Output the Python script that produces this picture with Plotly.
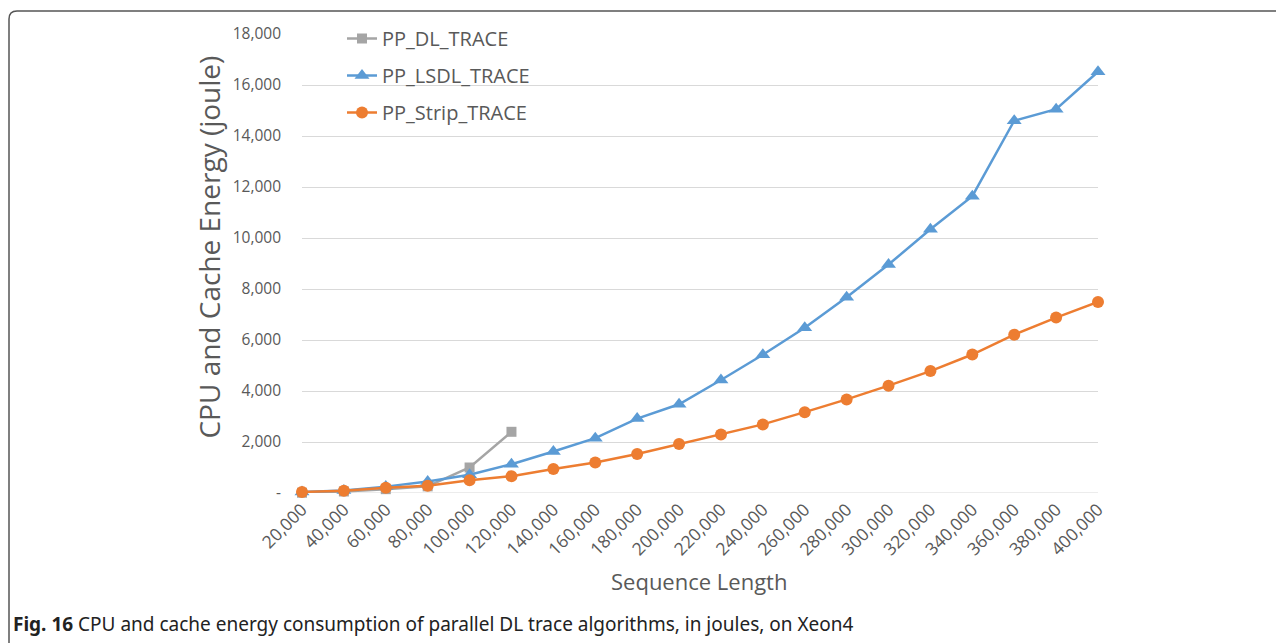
import plotly.graph_objects as go

seq_len = [20000, 40000, 60000, 80000, 100000, 120000, 140000, 160000, 180000, 200000,
           220000, 240000, 260000, 280000, 300000, 320000, 340000, 360000, 380000, 400000]
dl_len = seq_len[:6]
pp_dl_trace = [10, 60, 150, 260, 1000, 2400]
pp_lsdl_trace = [40, 100, 250, 450, 715, 1130, 1630, 2150, 2920, 3480,
                 4430, 5420, 6480, 7680, 8960, 10340, 11640, 14600, 15050, 16520]
pp_strip_trace = [40, 90, 210, 285, 500, 660, 940, 1200, 1530, 1920,
                  2290, 2690, 3170, 3670, 4210, 4780, 5430, 6210, 6880, 7490]

y_ticks = [0, 2000, 4000, 6000, 8000, 10000, 12000, 14000, 16000, 18000]
y_ticktext = ["-", "2,000", "4,000", "6,000", "8,000", "10,000", "12,000", "14,000", "16,000", "18,000"]
x_ticktext = [f"{v:,}" for v in seq_len]

GRAY = "#A5A5A5"
BLUE = "#5B9BD5"
ORANGE = "#ED7D31"
TXT = "#595959"
FONT = "Open Sans"

OFF = 8  # page body margin
W, H = 1284 - OFF, 643 - OFF
# plot area in page pixel coordinates
L, R, T, B = 302, 1098, 33, 493

fig = go.Figure()
fig.add_trace(go.Scatter(x=dl_len, y=pp_dl_trace, name="PP_DL_TRACE", mode="lines+markers",
                         line=dict(color=GRAY, width=2.5), legendgroup="a", cliponaxis=False,
                         marker=dict(symbol="square", size=10, color=GRAY)))
fig.add_trace(go.Scatter(x=seq_len, y=pp_lsdl_trace, name="PP_LSDL_TRACE", mode="lines+markers",
                         line=dict(color=BLUE, width=2.5), legendgroup="b", cliponaxis=False,
                         marker=dict(symbol="triangle-up", size=13, color=BLUE)))
fig.add_trace(go.Scatter(x=seq_len, y=pp_strip_trace, name="PP_Strip_TRACE", mode="lines+markers",
                         line=dict(color=ORANGE, width=2.5), legendgroup="c", cliponaxis=False,
                         marker=dict(symbol="circle", size=12, color=ORANGE)))

def px(xp):
    return (xp - L) / (R - L)

def py(yp):
    return (B - yp) / (B - T)

# Figure frame (rounded top-left corner)
x0, y0 = px(9), py(10)
x1, y1 = px(1300), py(660)
rx, ry = 8 / (R - L), 8 / (B - T)
fig.add_shape(type="path", xref="paper", yref="paper",
              path=f"M {x0} {y1} L {x0} {y0 - ry} Q {x0} {y0} {x0 + rx} {y0} L {x1} {y0}",
              line=dict(color="#555555", width=1.5), layer="above")

fig.add_annotation(xref="paper", yref="paper", x=px(11), y=py(624), xanchor="left", yanchor="middle",
                   text="<b>Fig. 16</b> CPU and cache energy consumption of parallel DL trace algorithms, in joules, on Xeon4",
                   showarrow=False, font=dict(family="Noto Sans", size=19, color="#222222"))

# axis titles
fig.add_annotation(xref="paper", yref="paper", x=px(699), y=py(581), xanchor="center", yanchor="middle",
                   text="Sequence Length", showarrow=False, font=dict(family=FONT, size=22, color=TXT))
fig.add_annotation(xref="paper", yref="paper", x=px(209), y=py(247), xanchor="center", yanchor="middle",
                   text="CPU and Cache Energy (joule)", textangle=-90, showarrow=False,
                   font=dict(family=FONT, size=28, color=TXT))

fig.update_layout(
    width=W, height=H,
    margin=dict(l=L - OFF, r=W - (R - OFF), t=T - OFF, b=H - (B - OFF)),
    paper_bgcolor="white", plot_bgcolor="white",
    font=dict(family=FONT, color=TXT),
    showlegend=True,
    legend=dict(x=px(342), y=py(19), xanchor="left", yanchor="top",
                bgcolor="rgba(0,0,0,0)", font=dict(size=20, color=TXT),
                tracegroupgap=8, itemwidth=30),
    xaxis=dict(range=[20000, 400000], tickvals=seq_len, ticktext=x_ticktext, tickangle=-45,
               showgrid=False, zeroline=False, showline=False, ticks="",
               tickfont=dict(size=17.5, color=TXT), ticklabelstandoff=2),
    yaxis=dict(range=[0, 18000], tickvals=y_ticks, ticktext=y_ticktext,
               showgrid=True, gridcolor="#D9D9D9", gridwidth=1.2, zeroline=False, showline=False,
               ticks="", tickfont=dict(size=15.5, color=TXT), ticklabelstandoff=20),
)
fig.add_shape(type="line", xref="paper", yref="y", x0=0, x1=1, y0=0, y1=0,
              line=dict(color="#D9D9D9", width=1.2), layer="below")

fig.write_html("out.html")
